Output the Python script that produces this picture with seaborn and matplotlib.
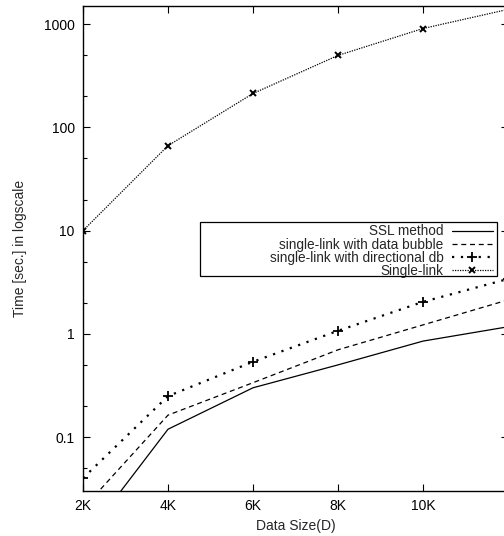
import matplotlib
matplotlib.use("Agg")
import matplotlib.pyplot as plt
import matplotlib.ticker as mticker
from matplotlib.patches import Rectangle
import seaborn as sns
import pandas as pd

# data
sizes = [2000, 4000, 6000, 8000, 10000, 12000]
tick_sizes = [2000, 4000, 6000, 8000, 10000]
tick_labels = ["2K", "4K", "6K", "8K", "10K"]
ssl_method = [0.0099, 0.119, 0.30, 0.50, 0.85, 1.17]
data_bubble = [0.0203, 0.163, 0.336, 0.70, 1.22, 2.13]
directional_db = [0.040, 0.249, 0.536, 1.07, 2.04, 3.4]
single_link = [10, 66.5, 213, 498, 908, 1390]

series_names = [
    "SSL method",
    "single-link with data bubble",
    "single-link with directional db",
    "Single-link",
]

sns.set_style("ticks")
plt.rcParams["font.family"] = ["Liberation Sans", "DejaVu Sans"]
plt.rcParams["font.size"] = 10

fig = plt.figure(figsize=(5.04, 5.36), dpi=100)
# the right edge of the plot runs just past the picture, as in the source
ax = fig.add_axes([83 / 504, 1 - 491 / 536, (508 - 83) / 504, (491 - 6) / 536])

df = pd.DataFrame({"size": sizes})
styles = [
    dict(ls="-", lw=0.9, marker=None),
    dict(ls=(0, (4, 3)), lw=0.9, marker=None),
    dict(ls=(0, (1, 3)), lw=1.6, marker="+", ms=7, mew=1.3),
    dict(ls=(0, (1, 1)), lw=0.9, marker="x", ms=5, mew=1.4),
]
for name, vals, st in zip(series_names, [ssl_method, data_bubble, directional_db, single_link], styles):
    df[name] = vals
    sns.lineplot(data=df, x="size", y=name, ax=ax, color="black", label=name,
                 linestyle=st["ls"], linewidth=st["lw"], marker=st["marker"],
                 markersize=st.get("ms", 0), markeredgewidth=st.get("mew", 0),
                 markeredgecolor="black")

ax.set_yscale("log")
ax.set_xlim(2000, 12000)
ax.set_ylim(0.03, 1500)
ax.set_xticks(tick_sizes)
ax.set_xticklabels(tick_labels)
ax.yaxis.set_major_locator(mticker.LogLocator(base=10))
ax.yaxis.set_major_formatter(mticker.FuncFormatter(lambda v, p: f"{v:g}"))
ax.yaxis.set_minor_locator(mticker.LogLocator(base=10, subs=(2, 5)))
ax.yaxis.set_minor_formatter(mticker.NullFormatter())
ax.tick_params(which="both", direction="in", top=True, right=True, colors="black", labelsize=10)
ax.tick_params(which="major", length=5, width=0.8, pad=6)
ax.tick_params(which="minor", length=3, width=0.8)
for s in ax.spines.values():
    s.set_linewidth(1.0)
    s.set_color("black")

ax.set_xlabel("Data Size(D)", fontsize=10, labelpad=4)
ax.set_ylabel("Time [sec.] in logscale", fontsize=10, labelpad=12)

# gnuplot-style key: entries right aligned inside a wider box
leg = ax.legend(loc="upper right",
                bbox_to_anchor=(494 / 504, 1 - 223 / 536),
                bbox_transform=fig.transFigure,
                markerfirst=False, frameon=False, fontsize=9.8,
                handlelength=3.0, handletextpad=0.6, borderpad=0.1,
                labelspacing=-0.06, borderaxespad=0)
leg._legend_box.align = "right"
fig.add_artist(Rectangle((200 / 504, 1 - 276 / 536), 297 / 504, 54 / 536,
                         transform=fig.transFigure, fill=False,
                         edgecolor="black", linewidth=0.9, zorder=5))

fig.savefig("out.png", dpi=100)
